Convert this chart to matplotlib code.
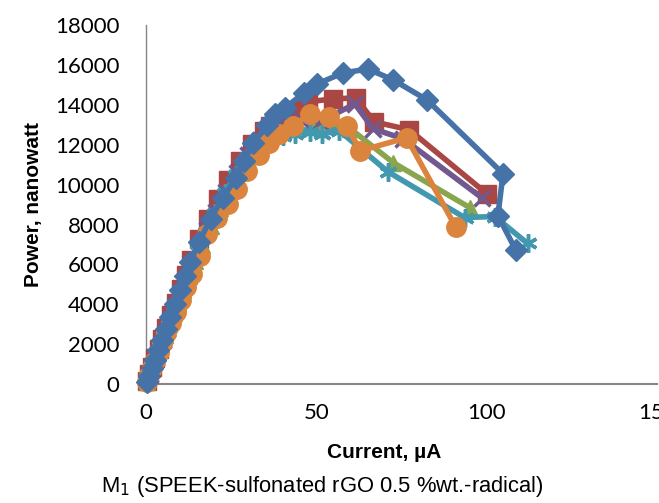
import matplotlib
matplotlib.use('Agg')
import matplotlib.pyplot as plt

# current (uA) and power (nW), one pair of lists per series
cur_diamond = [0.2, 0.9, 1.7, 2.6, 3.6, 4.7, 5.9, 7.2, 8.6, 10.1, 11.5, 13.0, 15.5, 19.0, 22.6,
               26.5, 28.8, 31.5, 35.5, 37.8, 40.8, 46.4, 50.3, 57.7, 65.2, 72.6, 82.5, 104.8, 103.3, 108.6]
pow_diamond = [90, 420, 800, 1220, 1690, 2200, 2760, 3370, 4000, 4700, 5400, 6100, 7100, 8300, 9350,
               10350, 11200, 12100, 13000, 13550, 13850, 14600, 15050, 15600, 15800, 15250, 14250, 10550, 8450, 6700]

cur_square = [0.3, 1.0, 1.8, 2.7, 3.7, 4.8, 6.0, 7.3, 8.7, 10.2, 11.7, 13.3, 15.6, 18.3, 21.0, 24.0,
              27.5, 31.0, 34.5, 36.5, 42.5, 47.5, 54.8, 61.6, 67.0, 77.3, 100.0]
pow_square = [140, 480, 860, 1280, 1750, 2270, 2830, 3440, 4080, 4780, 5480, 6200, 7250, 8300, 9300, 10250,
              11200, 12050, 12700, 12950, 13750, 14150, 14300, 14350, 13150, 12750, 9550]

cur_triangle = [0.2, 0.9, 1.7, 2.6, 3.5, 4.5, 5.6, 6.8, 8.1, 9.5, 11.0, 12.6, 14.4, 16.5, 19.0, 21.8,
                24.8, 28.0, 31.5, 35.0, 38.5, 44.0, 50.0, 55.0, 60.0, 72.6, 95.0]
pow_triangle = [80, 400, 760, 1160, 1560, 2000, 2480, 3000, 3560, 4150, 4780, 5430, 6150, 6950, 7900, 8850,
                9800, 10700, 11550, 12250, 12700, 13150, 13100, 13050, 12800, 11100, 8850]

cur_cross = [0.3, 1.1, 1.9, 2.8, 3.8, 4.9, 6.1, 7.4, 8.8, 10.3, 11.9, 13.6, 15.6, 18.0, 20.6, 23.5,
             26.6, 29.9, 33.4, 36.9, 40.5, 45.5, 51.0, 61.3, 66.7, 75.5, 98.5]
pow_cross = [130, 510, 880, 1290, 1740, 2230, 2760, 3320, 3920, 4560, 5230, 5930, 6750, 7700, 8650, 9650,
             10600, 11500, 12250, 12800, 13100, 13250, 13150, 14050, 12800, 12300, 9350]

cur_star = [0.2, 0.9, 1.7, 2.6, 3.6, 4.7, 5.9, 7.2, 8.6, 10.1, 11.7, 13.4, 15.4, 17.7, 20.3, 23.2,
            26.3, 29.6, 33.2, 36.8, 40.2, 43.8, 48.2, 51.8, 56.8, 71.0, 93.5, 102.4, 112.0]
pow_star = [90, 400, 770, 1180, 1620, 2110, 2640, 3210, 3820, 4460, 5150, 5860, 6680, 7600, 8600, 9600,
            10500, 11350, 11950, 12300, 12450, 12550, 12650, 12550, 12700, 10650, 8350, 8400, 7050]

cur_circle = [0.3, 1.0, 1.8, 2.7, 3.7, 4.8, 6.0, 7.3, 8.7, 10.2, 11.8, 13.5, 15.8, 18.0, 20.8, 24.0,
              26.6, 29.7, 33.2, 36.0, 38.9, 43.3, 48.2, 53.6, 58.9, 62.9, 76.5, 91.0]
pow_circle = [120, 430, 780, 1160, 1580, 2040, 2540, 3070, 3630, 4220, 4850, 5500, 6400, 7500, 8350, 9050,
              9800, 10700, 11500, 12100, 12550, 12950, 13550, 13400, 12950, 11700, 12350, 7850]

x_ticks = [0, 50, 100, 150]
y_ticks = list(range(0, 18001, 2000))

fig = plt.figure(figsize=(6.59, 5.03), dpi=100)
ax = fig.add_axes([0.2215, 0.2366, 0.7755, 0.7134])

# drawn bottom to top
series = [
    (cur_square, pow_square, '#AA4643', 's', 13, 1),
    (cur_triangle, pow_triangle, '#89A54E', '^', 12, 1),
    (cur_cross, pow_cross, '#71588F', 'x', 12, 2.5),
    (cur_star, pow_star, '#4198AF', (6, 2, 0), 13, 2.5),
    (cur_circle, pow_circle, '#DB843D', 'o', 14, 1),
    (cur_diamond, pow_diamond, '#4572A7', 'D', 11, 1),
]
for i, (xs, ys, c, m, ms, mew) in enumerate(series):
    ax.plot(xs, ys, color=c, lw=4, marker=m, ms=ms, mfc=c, mec=c, mew=mew,
            clip_on=False, zorder=3 + i)

ax.set_xlim(0, 150)
ax.set_ylim(0, 18000)
ax.set_xticks(x_ticks)
ax.set_yticks(y_ticks)
for s in ['top', 'right']:
    ax.spines[s].set_visible(False)
ax.spines['left'].set_color('#868686')
ax.spines['bottom'].set_color('#868686')
ax.spines['left'].set_linewidth(1)
ax.spines['bottom'].set_linewidth(1.5)
ax.tick_params(length=0, labelsize=16)
ax.tick_params(axis='y', pad=19)
ax.tick_params(axis='x', pad=14)
for lab in ax.get_xticklabels() + ax.get_yticklabels():
    lab.set_fontfamily('Lato')

ax.set_xlabel('Current, µA', fontsize=15, fontweight='bold', family='Liberation Sans', va='center')
ax.xaxis.set_label_coords(0.472 * 0.7648 / 0.7755, -0.19)
ax.set_ylabel('Power, nanowatt', fontsize=15, fontweight='bold', family='Liberation Sans', labelpad=9)

fig.text(0.490, 0.032, r'M$_1$ (SPEEK-sulfonated rGO 0.5 %wt.-radical)', fontsize=15.8,
         family='Liberation Sans', ha='center', va='center')

fig.savefig('out.png', dpi=100)
